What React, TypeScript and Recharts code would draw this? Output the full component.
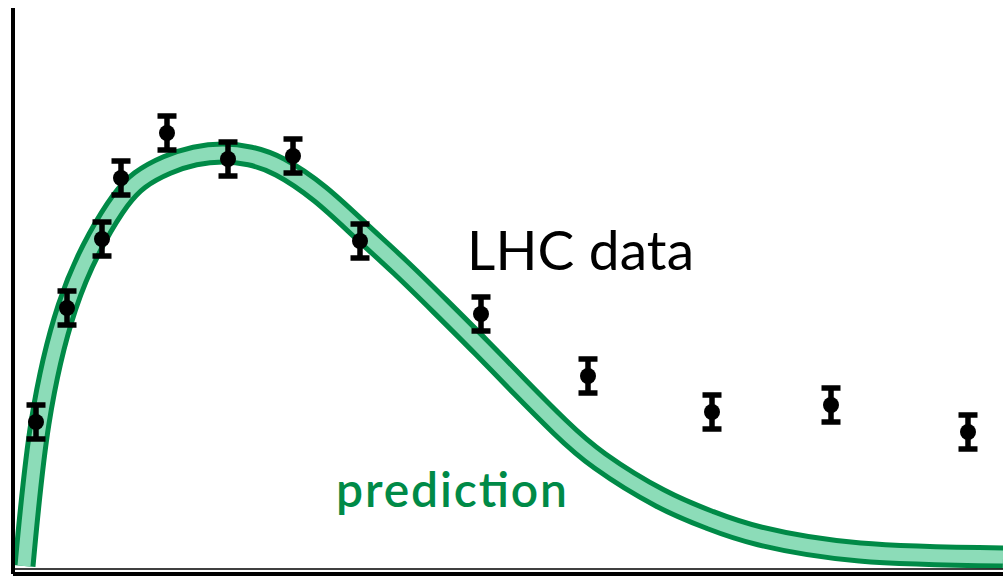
import { ComposedChart, Line, Scatter, ErrorBar, XAxis, YAxis, ReferenceLine, Customized } from 'recharts';

// measured data points (x, y in plot units, symmetric error)
const dataX = [23, 54, 89, 108, 154, 215, 280, 347, 468, 575, 699, 818, 955];
const dataY = [152, 266, 335, 396, 441, 415, 418, 333, 260, 198, 162, 169, 142];
const dataErr = [17, 17, 17, 17, 17, 17, 17, 17, 17, 17, 17, 17, 17];

// prediction band centre line
const predX = [11, 27, 54, 84, 107, 127, 154, 182, 210, 237, 267, 307, 347, 387, 427, 468, 507, 547, 587, 647, 697, 747, 847, 990];
const predY = [8, 151, 267, 336, 373, 394, 409, 418, 421, 418, 407, 380, 344, 307, 268, 227, 187, 147, 113, 76, 54, 38, 22, 17];

const DARK = '#008a47';
const LIGHT = '#8cdcb8';

const points = dataX.map((x, i) => ({ x, y: dataY[i], err: dataErr[i] }));
const band = predX.map((x, i) => ({ x, y: predY[i] }));

const Dot = (props: any) => <circle cx={props.cx} cy={props.cy} r={8} fill="#000" />;

const Labels = () => (
  <g>
    <text x={467} y={270} fontFamily="Lato, 'Open Sans', sans-serif" fontSize={55} fill="#000" textLength={227} lengthAdjust="spacing">
      LHC data
    </text>
    <text x={336} y={507} fontFamily="Lato, 'Open Sans', sans-serif" fontSize={48} fontWeight={600} fill={DARK} textLength={231} lengthAdjust="spacing">
      prediction
    </text>
  </g>
);

export default function App() {
  return (
    <div style={{ position: 'fixed', left: 0, top: 0, background: '#fff' }}>
      <ComposedChart width={1003} height={579} margin={{ top: 8, right: 0, left: 13, bottom: 5 }}>
        <XAxis dataKey="x" type="number" domain={[0, 990]} allowDataOverflow hide />
        <YAxis type="number" domain={[0, 566]} allowDataOverflow hide />
        <Line data={band} dataKey="y" type="natural" stroke={DARK} strokeWidth={23} dot={false} activeDot={false} isAnimationActive={false} />
        <Line data={band} dataKey="y" type="natural" stroke={LIGHT} strokeWidth={13} dot={false} activeDot={false} isAnimationActive={false} />
        <ReferenceLine y={5} stroke="#000" strokeWidth={1.5} />
        <ReferenceLine y={0} stroke="#000" strokeWidth={4} />
        <ReferenceLine x={0} stroke="#000" strokeWidth={4} />
        <Scatter data={points} dataKey="y" shape={Dot} isAnimationActive={false}>
          <ErrorBar dataKey="err" direction="y" width={9.5} strokeWidth={5.5} stroke="#000" style={{ strokeWidth: 5.5 }} />
        </Scatter>
        <Customized component={Labels} />
      </ComposedChart>
    </div>
  );
}
